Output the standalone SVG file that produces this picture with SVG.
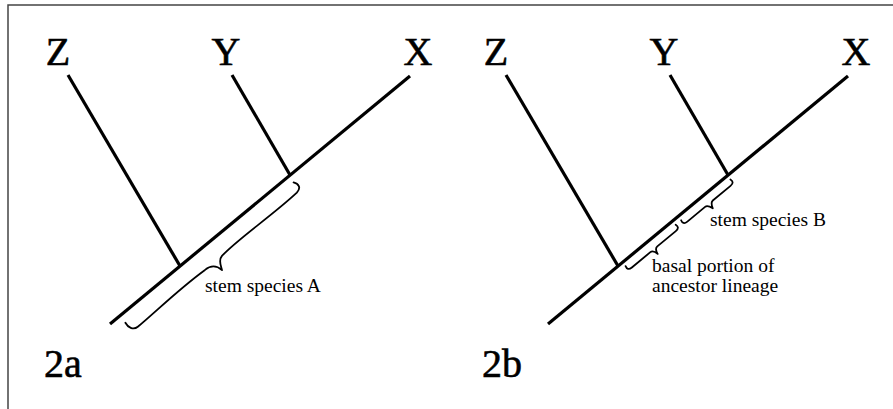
<svg xmlns="http://www.w3.org/2000/svg" width="893" height="409" viewBox="0 0 893 409">
<style>
.frame{stroke:#444;stroke-width:1.5;fill:none}
.branch{stroke:#000;stroke-width:3.2;fill:none}
.brace{stroke:#000;stroke-width:1.8;fill:none;stroke-linecap:round;stroke-linejoin:round}
.taxon{font-family:"Liberation Serif","Times New Roman",serif;font-size:40px;text-anchor:middle;fill:#000;stroke:#000;stroke-width:0.6}
.panel{font-family:"Liberation Serif","Times New Roman",serif;font-size:40px;fill:#000;stroke:#000;stroke-width:0.6}
.note{font-family:"Liberation Serif","Times New Roman",serif;font-size:19.5px;fill:#000}
</style>
<rect width="893" height="409" fill="#fff"/>
<g id="frame"><polyline class="frame" points="8,409 8,5 893,5"/></g>

<g id="connectors">
  <!-- panel a -->
  <line class="branch" x1="110" y1="324" x2="410" y2="76"/>
  <line class="branch" x1="68" y1="75" x2="180" y2="266"/>
  <line class="branch" x1="232" y1="75" x2="290" y2="175"/>
  <path class="brace" transform="translate(290,175) rotate(-39.58)" d="M -2,8 C 1,12 1,17 -6,18 C -40,20 -80,16 -104,19 C -110,20 -111,26 -113,30 C -114,24 -118,19 -126,19 C -160,17 -190,20 -214,20 C -220,20 -222,14 -221,9"/>
  <!-- panel b -->
  <line class="branch" x1="548" y1="324" x2="848" y2="76"/>
  <line class="branch" x1="506" y1="75" x2="618" y2="266"/>
  <line class="branch" x1="670" y1="75" x2="728" y2="175"/>
  <path class="brace" transform="translate(728,175) rotate(-39.58)" d="M -1,5 C 0,8 -1,10 -5,10 L -28,10 C -31,10 -32,13 -33,16 C -34,13 -35,10 -38,10 L -61,10 C -65,10 -66,8 -65,5"/>
  <path class="brace" transform="translate(728,175) rotate(-39.58)" d="M -72,5 C -71,8 -72,10 -76,10 L -100,10 C -103,10 -104,13 -104.5,16 C -105,13 -106,10 -109,10 L -133,10 C -137,10 -138,8 -137,5"/>
</g>

<g id="a-Z"><text class="taxon" x="58" y="65">Z</text></g>
<g id="a-Y"><text class="taxon" x="226" y="65">Y</text></g>
<g id="a-X"><text class="taxon" x="418" y="65">X</text></g>
<g id="a-stem"><text class="note" x="205" y="292">stem species A</text></g>
<g id="a-label"><text class="panel" x="44" y="377">2a</text></g>

<g id="b-Z"><text class="taxon" x="496" y="65">Z</text></g>
<g id="b-Y"><text class="taxon" x="664" y="65">Y</text></g>
<g id="b-X"><text class="taxon" x="856" y="65">X</text></g>
<g id="b-stem"><text class="note" x="710" y="226">stem species B</text></g>
<g id="b-basal"><text class="note" x="652" y="272">basal portion of</text><text class="note" x="652" y="292">ancestor lineage</text></g>
<g id="b-label"><text class="panel" x="482" y="377">2b</text></g>
</svg>
